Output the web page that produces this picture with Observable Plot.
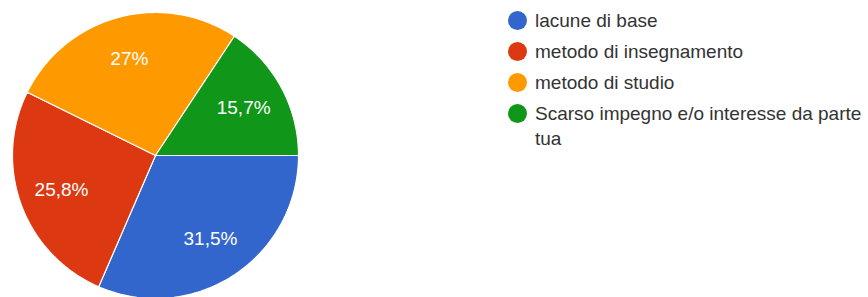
<!DOCTYPE html>
<html><head><meta charset="utf-8">
<script src="https://cdn.jsdelivr.net/npm/d3@7"></script>
<script src="https://cdn.jsdelivr.net/npm/@observablehq/plot@0.6"></script>
<style>
body{margin:0;background:#fff}
#wrap{position:relative;width:868px;height:297px;overflow:hidden;font-family:"Liberation Sans",Arial,sans-serif}
#wrap svg{position:absolute;left:0;top:0}
.item{position:absolute;left:508px;display:flex;align-items:flex-start;font-size:19px;line-height:25px;color:#333}
.dot{width:19px;height:19px;border-radius:50%;margin-top:3px;flex:none}
.txt{margin-left:8px;width:335px}
</style></head>
<body><div id="wrap"></div>
<script>
const categories = ["lacune di base","metodo di insegnamento","metodo di studio","Scarso impegno e/o interesse da parte tua"];
const values = [31.5, 25.8, 27, 15.7];
const valueLabels = ["31,5%","25,8%","27%","15,7%"];
const colors = ["#3366cc","#dc3912","#ff9900","#109618"];

const arcs = d3.pie().sort(null).startAngle(Math.PI/2).endAngle(Math.PI/2 + 2*Math.PI)(values);
const poly = [];
const labelsData = [];
arcs.forEach((a, i) => {
  const cat = categories[i];
  poly.push({cat, x: 0, y: 0});
  const n = Math.max(2, Math.ceil((a.endAngle - a.startAngle) / (Math.PI/180)));
  for (let k = 0; k <= n; k++) {
    const t = a.startAngle + (a.endAngle - a.startAngle) * k / n;
    poly.push({cat, x: Math.sin(t), y: Math.cos(t)});
  }
  poly.push({cat, x: 0, y: 0});
  const m = (a.startAngle + a.endAngle) / 2;
  labelsData.push({text: valueLabels[i], x: 0.7*Math.sin(m), y: 0.7*Math.cos(m)});
});

const chart = Plot.plot({
  width: 868, height: 297, margin: 0,
  style: {fontFamily: '"Liberation Sans", Arial, sans-serif', background: "transparent"},
  x: {domain: [-1, 1], range: [12, 298], axis: null},
  y: {domain: [-1, 1], range: [298, 12], axis: null},
  color: {domain: categories, range: colors},
  marks: [
    Plot.line(poly, {x: "x", y: "y", z: "cat", fill: "cat", stroke: "white", strokeWidth: 1.2, strokeLinejoin: "miter"}),
    Plot.text(labelsData, {x: "x", y: "y", text: "text", fill: "white", fontSize: 19})
  ]
});
const wrap = document.getElementById("wrap");
wrap.appendChild(chart);

const rowCenters = [20, 51, 82, 113];
categories.forEach((c, i) => {
  const it = document.createElement("div");
  it.className = "item";
  it.style.top = (rowCenters[i] - 12.5) + "px";
  const d = document.createElement("span");
  d.className = "dot"; d.style.background = colors[i];
  const t = document.createElement("span");
  t.className = "txt"; t.textContent = c;
  it.appendChild(d); it.appendChild(t);
  wrap.appendChild(it);
});
</script></body></html>
